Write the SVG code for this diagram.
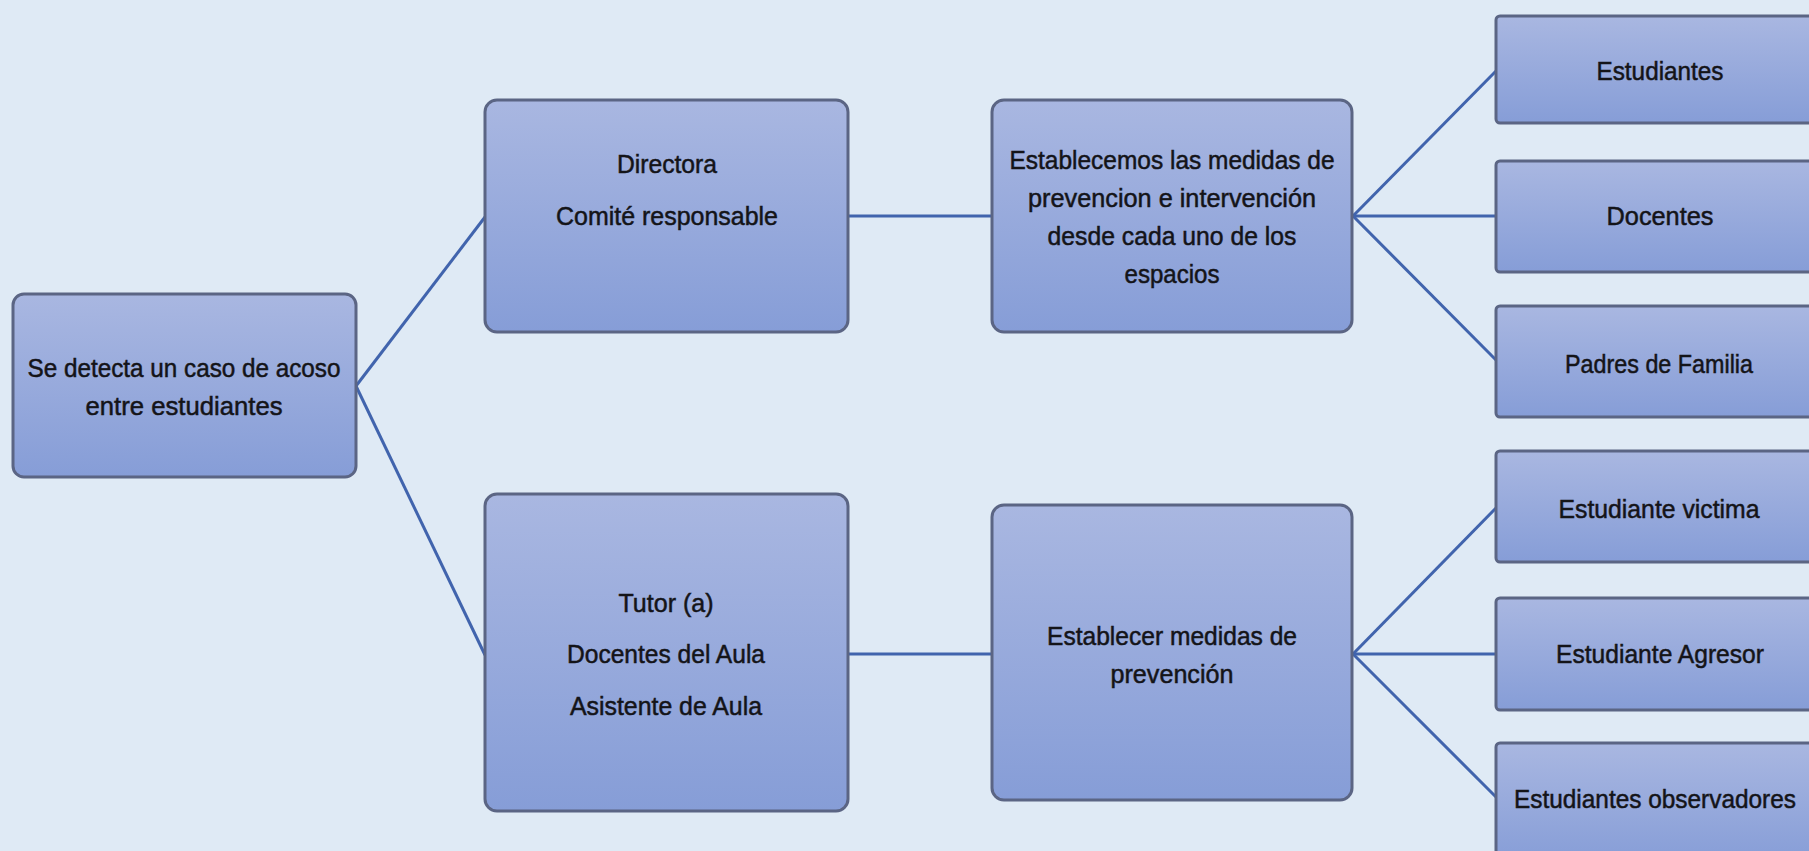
<svg xmlns="http://www.w3.org/2000/svg" width="1809" height="851" viewBox="0 0 1809 851">
<defs>
<linearGradient id="g" x1="0" y1="0" x2="0" y2="1">
<stop offset="0" stop-color="#a9b7e1"/>
<stop offset="1" stop-color="#869dd7"/>
</linearGradient>
<style>
.box{fill:url(#g);stroke:#5b6584;stroke-width:3}
.t{font-family:"Liberation Sans",Arial,sans-serif;font-size:26px;fill:#141418;text-anchor:middle;stroke:#141418;stroke-width:0.5}
.c{stroke:#4164ad;stroke-width:3;fill:none}
</style>
</defs>
<rect width="1809" height="851" fill="#dfeaf5"/>
<g id="connectors">
<line class="c" x1="356" y1="386" x2="485" y2="217"/>
<line class="c" x1="356" y1="386" x2="485" y2="655"/>
<line class="c" x1="848" y1="216" x2="992" y2="216"/>
<line class="c" x1="848" y1="654" x2="992" y2="654"/>
<line class="c" x1="1353" y1="216" x2="1496" y2="71"/>
<line class="c" x1="1353" y1="216" x2="1496" y2="216"/>
<line class="c" x1="1353" y1="216" x2="1496" y2="360"/>
<line class="c" x1="1353" y1="654" x2="1496" y2="508"/>
<line class="c" x1="1353" y1="654" x2="1496" y2="654"/>
<line class="c" x1="1353" y1="654" x2="1496" y2="797"/>
</g>
<g id="n-root">
<rect class="box" x="13" y="294" width="343" height="183" rx="11"/>
<text class="t" x="184" y="377" textLength="313" lengthAdjust="spacingAndGlyphs">Se detecta un caso de acoso</text>
<text class="t" x="184" y="415" textLength="197" lengthAdjust="spacingAndGlyphs">entre estudiantes</text>
</g>
<g id="n-directora">
<rect class="box" x="485" y="100" width="363" height="232" rx="12"/>
<text class="t" x="667" y="173" textLength="100" lengthAdjust="spacingAndGlyphs">Directora</text>
<text class="t" x="667" y="225" textLength="222" lengthAdjust="spacingAndGlyphs">Comité  responsable</text>
</g>
<g id="n-establecemos">
<rect class="box" x="992" y="100" width="360" height="232" rx="12"/>
<text class="t" x="1172" y="169" textLength="325" lengthAdjust="spacingAndGlyphs">Establecemos las medidas de</text>
<text class="t" x="1172" y="207" textLength="288" lengthAdjust="spacingAndGlyphs">prevencion e intervención</text>
<text class="t" x="1172" y="245" textLength="249" lengthAdjust="spacingAndGlyphs">desde cada uno de los</text>
<text class="t" x="1172" y="283" textLength="95" lengthAdjust="spacingAndGlyphs">espacios</text>
</g>
<g id="n-tutor">
<rect class="box" x="485" y="494" width="363" height="317" rx="12"/>
<text class="t" x="666" y="612" textLength="95" lengthAdjust="spacingAndGlyphs">Tutor (a)</text>
<text class="t" x="666" y="663" textLength="198" lengthAdjust="spacingAndGlyphs">Docentes del Aula</text>
<text class="t" x="666" y="715" textLength="192" lengthAdjust="spacingAndGlyphs">Asistente de Aula</text>
</g>
<g id="n-establecer">
<rect class="box" x="992" y="505" width="360" height="295" rx="12"/>
<text class="t" x="1172" y="645" textLength="250" lengthAdjust="spacingAndGlyphs">Establecer medidas de</text>
<text class="t" x="1172" y="683" textLength="123" lengthAdjust="spacingAndGlyphs">prevención</text>
</g>
<g id="n-estudiantes">
<rect class="box" x="1496" y="16" width="340" height="107" rx="4"/>
<text class="t" x="1660" y="80" textLength="127" lengthAdjust="spacingAndGlyphs">Estudiantes</text>
</g>
<g id="n-docentes">
<rect class="box" x="1496" y="161" width="340" height="111" rx="4"/>
<text class="t" x="1660" y="225" textLength="107" lengthAdjust="spacingAndGlyphs">Docentes</text>
</g>
<g id="n-padres">
<rect class="box" x="1496" y="306" width="340" height="111" rx="4"/>
<text class="t" x="1659" y="373" textLength="188" lengthAdjust="spacingAndGlyphs">Padres de Familia</text>
</g>
<g id="n-victima">
<rect class="box" x="1496" y="451" width="340" height="111" rx="4"/>
<text class="t" x="1659" y="518" textLength="201" lengthAdjust="spacingAndGlyphs">Estudiante victima</text>
</g>
<g id="n-agresor">
<rect class="box" x="1496" y="598" width="340" height="112" rx="4"/>
<text class="t" x="1660" y="663" textLength="208" lengthAdjust="spacingAndGlyphs">Estudiante  Agresor</text>
</g>
<g id="n-observadores">
<rect class="box" x="1496" y="743" width="340" height="120" rx="4"/>
<text class="t" x="1655" y="808" textLength="282" lengthAdjust="spacingAndGlyphs">Estudiantes observadores</text>
</g>
</svg>
